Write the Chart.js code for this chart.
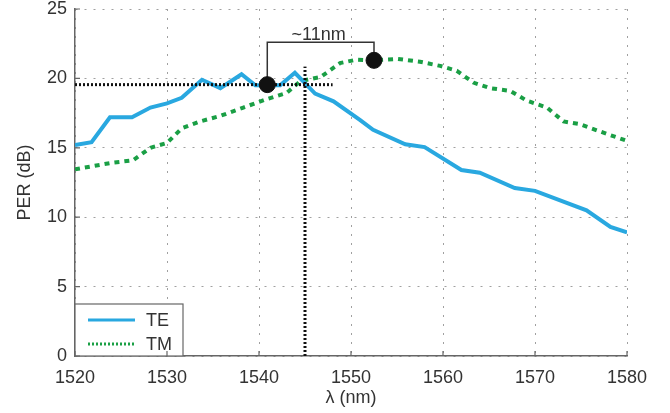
<!DOCTYPE html>
<html>
<head>
<meta charset="utf-8">
<style>
  html, body { margin: 0; padding: 0; background: #fff; }
  #wrap { width: 670px; height: 413px; }
</style>
<script src="https://cdn.jsdelivr.net/npm/chart.js@4"></script>
</head>
<body>
<div id="wrap"><canvas id="perChart"></canvas></div>
<script>
// PER of TE and TM polarisations against wavelength
const teWavelengths = [1520, 1521.8, 1523.8, 1526.2, 1528.2, 1530, 1531.6, 1533.8, 1535.8, 1538.1, 1539.6, 1542.3, 1543.9, 1546.1, 1548.1, 1551, 1552.4, 1555.9, 1558, 1562, 1564, 1567.8, 1570, 1575.6, 1578.2, 1580];
const teValues = [15.2, 15.4, 17.2, 17.2, 17.9, 18.2, 18.6, 19.9, 19.3, 20.3, 19.5, 19.5, 20.4, 18.9, 18.35, 17.0, 16.3, 15.25, 15.05, 13.4, 13.2, 12.1, 11.9, 10.5, 9.3, 8.9];

const tmWavelengths = [1520, 1523.8, 1526.3, 1528.2, 1530, 1531.6, 1533.6, 1535.8, 1538.3, 1540.8, 1543, 1544.5, 1546.7, 1548.8, 1550.6, 1552.4, 1555.1, 1557.5, 1559.7, 1561.5, 1563.3, 1565.1, 1567.3, 1569.1, 1571.3, 1573.1, 1574.9, 1577.8, 1580];
const tmValues = [13.45, 13.9, 14.1, 15.0, 15.35, 16.4, 16.9, 17.3, 17.9, 18.5, 18.95, 19.8, 20.1, 21.1, 21.35, 21.3, 21.4, 21.2, 20.9, 20.55, 19.7, 19.3, 19.1, 18.4, 17.9, 16.9, 16.7, 16.0, 15.5];

// annotation values
const peakWavelengths = [1540.9, 1552.5];
const peakValues = [19.55, 21.3];
const bracketTop = 22.6;
const levelLine = { x: [1520, 1548], y: 19.55 };
const crossLine = { x: 1545, y: [0, 20.85] };
const spacingLabel = "~11nm";

const xTicks = [1520, 1530, 1540, 1550, 1560, 1570, 1580];
const yTicks = [0, 5, 10, 15, 20, 25];

const fontFamily = "'Liberation Sans', Arial, Helvetica, sans-serif";
const fontSize = 18;
const textColor = "#333333";
const axisColor = "#666666";

function toPoints(xs, ys) {
  return xs.map((x, i) => ({ x, y: ys[i] }));
}

const insideTicks = {
  id: "insideTicks",
  afterDraw(chart) {
    const { ctx, chartArea, scales } = chart;
    ctx.save();
    ctx.strokeStyle = axisColor;
    ctx.lineWidth = 1.2;
    ctx.beginPath();
    xTicks.forEach((v) => {
      const px = scales.x.getPixelForValue(v);
      ctx.moveTo(px, chartArea.bottom);
      ctx.lineTo(px, chartArea.bottom - 5);
    });
    yTicks.forEach((v) => {
      const py = scales.y.getPixelForValue(v);
      ctx.moveTo(chartArea.left, py);
      ctx.lineTo(chartArea.left + 5, py);
    });
    ctx.stroke();
    ctx.restore();
  }
};

const spacingText = {
  id: "spacingText",
  afterDatasetsDraw(chart) {
    const { ctx, scales } = chart;
    const cx = scales.x.getPixelForValue((peakWavelengths[0] + peakWavelengths[1]) / 2);
    const cy = scales.y.getPixelForValue(bracketTop);
    ctx.save();
    ctx.fillStyle = textColor;
    ctx.font = fontSize + "px " + fontFamily;
    ctx.textAlign = "center";
    ctx.textBaseline = "alphabetic";
    ctx.fillText(spacingLabel, cx - 2, cy - 2);
    ctx.restore();
  }
};

const boxLegend = {
  id: "boxLegend",
  afterDatasetsDraw(chart) {
    const { ctx, chartArea } = chart;
    const left = chartArea.left;
    const top = chartArea.bottom - 52;
    ctx.save();
    ctx.fillStyle = "#ffffff";
    ctx.fillRect(left, top, 108, 52);
    ctx.strokeStyle = axisColor;
    ctx.lineWidth = 1.2;
    ctx.strokeRect(left, top, 108, 52);

    const entries = chart.data.datasets.filter((d) => d.inLegend);
    entries.forEach((d, i) => {
      const y = top + 16 + i * 24;
      ctx.strokeStyle = d.borderColor;
      ctx.lineWidth = 3;
      ctx.setLineDash(i === 0 ? [] : [2, 2]);
      ctx.beginPath();
      ctx.moveTo(left + 13, y);
      ctx.lineTo(left + 60, y);
      ctx.stroke();
      ctx.setLineDash([]);
      ctx.fillStyle = textColor;
      ctx.font = fontSize + "px " + fontFamily;
      ctx.textAlign = "left";
      ctx.textBaseline = "middle";
      ctx.fillText(d.label, left + 71, y + 1);
    });
    ctx.restore();
  }
};

new Chart(document.getElementById("perChart"), {
  type: "scatter",
  data: {
    datasets: [
      {
        label: "peaks",
        data: toPoints(peakWavelengths, peakValues),
        showLine: false,
        pointRadius: 8,
        pointBackgroundColor: "#111111",
        pointBorderColor: "#111111"
      },
      {
        label: "bracket",
        data: [
          { x: peakWavelengths[0], y: peakValues[0] },
          { x: peakWavelengths[0], y: bracketTop },
          { x: peakWavelengths[1], y: bracketTop },
          { x: peakWavelengths[1], y: peakValues[1] }
        ],
        showLine: true,
        borderColor: "#333333",
        borderWidth: 1.5,
        pointRadius: 0
      },
      {
        label: "level",
        data: levelLine.x.map((x) => ({ x, y: levelLine.y })),
        showLine: true,
        borderColor: "#111111",
        borderWidth: 3,
        borderDash: [2, 2],
        pointRadius: 0
      },
      {
        label: "cross",
        data: crossLine.y.map((y) => ({ x: crossLine.x, y })),
        showLine: true,
        borderColor: "#111111",
        borderWidth: 3,
        borderDash: [2, 2],
        pointRadius: 0
      },
      {
        label: "TE",
        inLegend: true,
        data: toPoints(teWavelengths, teValues),
        showLine: true,
        borderColor: "#29a8e0",
        borderWidth: 4,
        pointRadius: 0,
        tension: 0
      },
      {
        label: "TM",
        inLegend: true,
        data: toPoints(tmWavelengths, tmValues),
        showLine: true,
        borderColor: "#1a9f45",
        borderWidth: 4,
        borderDash: [5, 5],
        pointRadius: 0,
        tension: 0
      }
    ]
  },
  options: {
    responsive: true,
    maintainAspectRatio: false,
    animation: false,
    layout: { padding: { left: 0, right: 43, top: 7, bottom: 0 } },
    plugins: {
      legend: { display: false },
      tooltip: { enabled: false }
    },
    scales: {
      x: {
        type: "linear",
        min: 1520,
        max: 1580,
        afterFit: (scale) => { scale.height = 57; },
        afterBuildTicks: (scale) => { scale.ticks = xTicks.map((v) => ({ value: v })); },
        grid: { color: "#a0a0a0", lineWidth: 1, drawTicks: false },
        border: { display: true, color: axisColor, width: 1.5, dash: [2, 7] },
        ticks: {
          padding: 11,
          color: textColor,
          font: { family: fontFamily, size: fontSize },
          maxRotation: 0,
          callback: (value) => String(value)
        },
        title: {
          display: true,
          text: "λ (nm)",
          color: textColor,
          font: { family: fontFamily, size: fontSize },
          padding: { top: 0, bottom: 4 }
        }
      },
      y: {
        min: 0,
        max: 25,
        afterFit: (scale) => {
          scale.width = 75;
          scale.paddingTop = 0;
          scale.paddingBottom = 0;
        },
        afterBuildTicks: (scale) => { scale.ticks = yTicks.map((v) => ({ value: v })); },
        grid: { color: "#a0a0a0", lineWidth: 1, drawTicks: false },
        border: { display: true, color: axisColor, width: 1.5, dash: [2, 7] },
        ticks: {
          padding: 8,
          color: textColor,
          font: { family: fontFamily, size: fontSize },
          callback: (value) => String(value)
        },
        title: {
          display: true,
          text: "PER (dB)",
          color: textColor,
          font: { family: fontFamily, size: fontSize },
          padding: { top: 14, bottom: 0 }
        }
      }
    }
  },
  plugins: [insideTicks, spacingText, boxLegend]
});
</script>
</body>
</html>
